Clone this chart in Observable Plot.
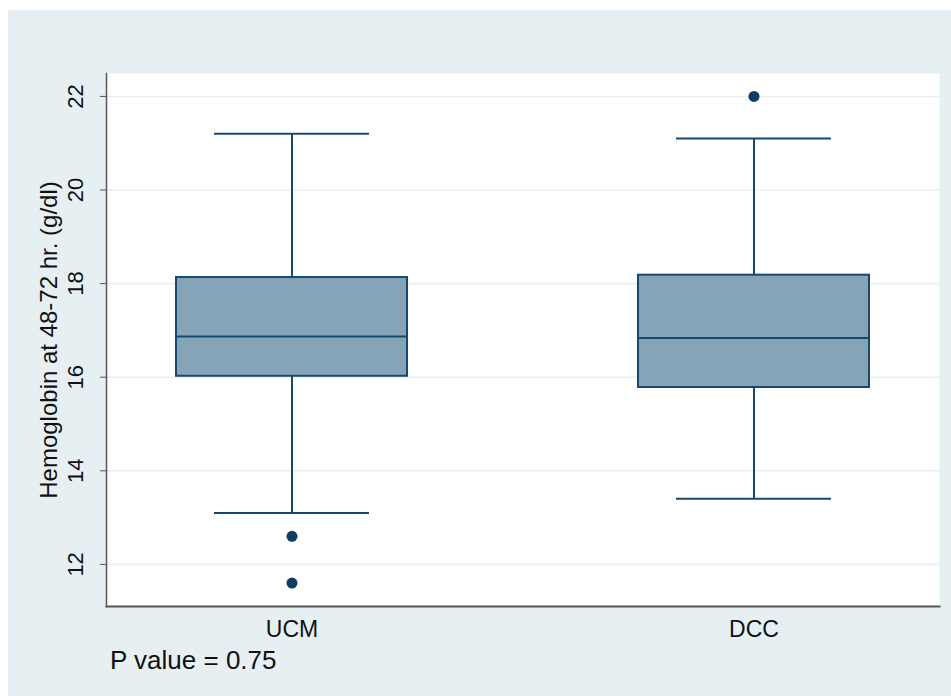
<!DOCTYPE html>
<html>
<head>
<meta charset="utf-8">
<script src="https://cdn.jsdelivr.net/npm/d3@7"></script>
<script src="https://cdn.jsdelivr.net/npm/@observablehq/plot@0.6"></script>
<style>
  html, body { margin: 0; padding: 0; background: #ffffff; }
  #wrap { position: relative; width: 951px; height: 696px; overflow: hidden; background: #ffffff; }
  #bg { position: absolute; left: 8px; top: 10px; right: 0; bottom: 0; background: #e6f0f3; }
  #chart { position: absolute; left: 0; top: 0; }
  #chart svg text { fill: #111; }
  #pval { position: absolute; left: 110px; top: 645px; font-family: "Liberation Sans", Arial, sans-serif; font-size: 26px; color: #111; }
</style>
</head>
<body>
<div id="wrap">
  <div id="bg"></div>
  <div id="chart"></div>
  <div id="pval">P value = 0.75</div>
</div>
<script>
const groups = ["UCM", "DCC"];
const q1 = [16.02, 15.78];
const median = [16.87, 16.84];
const q3 = [18.13, 18.18];
const whiskerLow = [13.1, 13.4];
const whiskerHigh = [21.2, 21.1];
const outlierGroup = ["UCM", "UCM", "DCC"];
const outlierValue = [12.6, 11.6, 22.0];
const yTicks = [12, 14, 16, 18, 20, 22];

const boxes = groups.map((g, i) => ({
  group: g, q1: q1[i], median: median[i], q3: q3[i], lo: whiskerLow[i], hi: whiskerHigh[i]
}));
const outliers = outlierGroup.map((g, i) => ({group: g, value: outlierValue[i]}));

const boxStroke = "#184870";
const boxFill = "#86a4b8";

const plot = Plot.plot({
  width: 951,
  height: 650,
  marginTop: 73,
  marginLeft: 106,
  marginRight: 12,
  marginBottom: 44,
  style: {background: "transparent", fontFamily: "'Liberation Sans', Arial, sans-serif", fontSize: "19px", color: "#111"},
  x: {domain: groups, paddingInner: 0.5, paddingOuter: 0.15, label: null},
  y: {domain: [11.1, 22.49], label: null},
  marks: [
    Plot.frame({fill: "#ffffff", stroke: null}),
    Plot.ruleY(yTicks, {stroke: "#e6f0f4", strokeWidth: 1.6}),
    // whiskers
    Plot.ruleX(boxes, {x: "group", y1: "lo", y2: "q1", stroke: boxStroke, strokeWidth: 2}),
    Plot.ruleX(boxes, {x: "group", y1: "q3", y2: "hi", stroke: boxStroke, strokeWidth: 2}),
    Plot.tickY(boxes, {x: "group", y: "lo", stroke: boxStroke, strokeWidth: 2, insetLeft: 38, insetRight: 38}),
    Plot.tickY(boxes, {x: "group", y: "hi", stroke: boxStroke, strokeWidth: 2, insetLeft: 38, insetRight: 38}),
    // box
    Plot.barY(boxes, {x: "group", y1: "q1", y2: "q3", fill: boxFill, stroke: boxStroke, strokeWidth: 2}),
    Plot.tickY(boxes, {x: "group", y: "median", stroke: boxStroke, strokeWidth: 2}),
    // outliers
    Plot.dot(outliers, {x: "group", y: "value", r: 5.5, fill: "#0e3d66", stroke: null}),
    // axes
    Plot.axisY({ticks: yTicks, tickSize: 6, tickRotate: -90, tickPadding: 18, stroke: "#555", fontSize: 22, textAnchor: "middle"}),
    Plot.axisX({tickSize: 0, tickPadding: 14, fontSize: 23}),
    Plot.frame({anchor: "left", stroke: "#555", strokeWidth: 1.5}),
    Plot.frame({anchor: "bottom", stroke: "#555", strokeWidth: 2}),
    Plot.text(["Hemoglobin at 48-72 hr. (g/dl)"], {frameAnchor: "left", textAnchor: "middle", dx: -57, rotate: -90, fontSize: 24, fill: "#111"})
  ]
});
document.getElementById("chart").appendChild(plot);
</script>
</body>
</html>
